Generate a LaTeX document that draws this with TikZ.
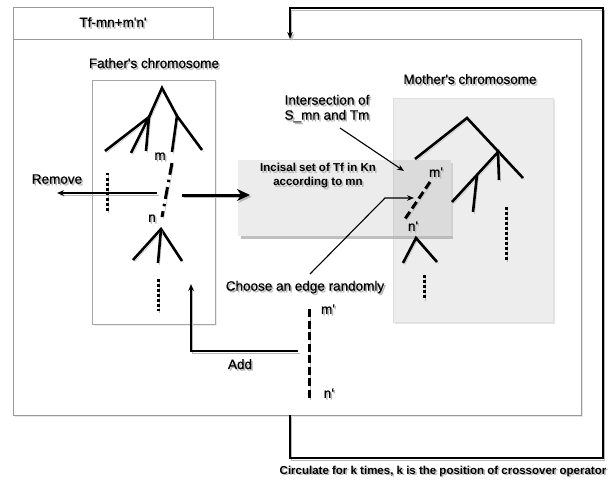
\documentclass[tikz,border=0pt]{standalone}
\usepackage{fontspec}
\setmainfont{Liberation Sans}
\newfontfamily\lblfont{Liberation Sans}[FakeBold=0.6]
\usetikzlibrary{arrows.meta,shadows}
\newcommand\q{\textquotesingle}
\newcommand\sh[1]{\makebox[0pt][l]{\hspace{1.6pt}\raisebox{-1.7pt}{\textcolor{black!28}{#1}}}#1}
\begin{document}
\begin{tikzpicture}[x=1pt,y=-1pt,
  lbl/.style={font=\lblfont\fontsize{13.5}{15}\selectfont, inner sep=0pt},
  blbl/.style={font=\bfseries\fontsize{11.5}{13.5}\selectfont, inner sep=0pt, align=center},
  frame/.style={draw=black!40, line width=0.8pt},
  shd/.style={preaction={draw=black!28, transform canvas={shift={(1.6pt,-1.8pt)}}}},
  tree/.style={line width=2.6pt, shd},
  dotv/.style={line width=3pt, dash pattern=on 2.5pt off 2.5pt, shd},
  dashv/.style={line width=3pt, dash pattern=on 8pt off 3.5pt, shd},
  thin/.style={line width=1.1pt, -{Stealth[length=7pt,width=5.5pt]}},
  thick/.style={line width=3pt, -{Stealth[length=13pt,width=12pt]}}]
\useasboundingbox (0,0) rectangle (615,481);
\fill[white] (0,0) rectangle (615,481);

% frames
\node[frame, fill=white, minimum width=568pt, minimum height=376pt, inner sep=0pt,
      drop shadow={opacity=0.2, shadow xshift=1.5pt, shadow yshift=-1.5pt}] (main) at (297,227) {};
\node[frame, fill=white, minimum width=200pt, minimum height=32pt, inner sep=0pt] (tfbox) at (113,23) {};
\node[lbl] (tftext) at (113,23) {\sh{Tf-mn+m\q n\q}};

% loop arrow
\coordinate (lpS) at (290,415);
\coordinate (lp1) at (290,458);
\coordinate (lp2) at (603,458);
\coordinate (lp3) at (603,8);
\coordinate (lp4) at (290,8);
\coordinate (lpE) at (290,39);
\draw[line width=1.3pt, shd, -{Stealth[length=7pt,width=5.5pt]}] (lpS) -- (lp1) -- (lp2) -- (lp3) -- (lp4) -- (lpE);
\node[blbl] (circ) at (443,472) {\sh{Circulate for k times, k is the position of crossover operator}};

% father box
\node[frame, draw=black!35, fill=white, minimum width=123pt, minimum height=244pt, inner sep=0pt,
      drop shadow={opacity=0.15, shadow xshift=1.5pt, shadow yshift=-1.5pt}] (fbox) at (153.5,202) {};
\node[lbl] (flabel) at (154,64) {\sh{Father\q s chromosome}};

% mother box
\node[draw=black!12, fill=black!7, minimum width=160pt, minimum height=224pt, inner sep=0pt,
      drop shadow={opacity=0.2, shadow xshift=2pt, shadow yshift=-2pt}] (mbox) at (473,210) {};
\node[lbl] (mlabel) at (470,80) {\sh{Mother\q s chromosome}};

% incisal box
\fill[black!35, opacity=0.7] (241,235.5) rectangle (453,238.5);
\fill[black!25, opacity=0.6] (451,163) rectangle (453,238.5);
\node[fill=black, fill opacity=0.075, minimum width=213pt, minimum height=76pt, inner sep=0pt] (ibox) at (344.5,198) {};
\node[blbl] (itext) at (318,176.5) {\sh{Incisal set of Tf in Kn}\\\sh{according to mn}};

% father tree
\draw[tree] (149,117) -- (162,88) -- (177,116);
\draw[tree] (105,151) -- (149,117) -- (131,153);
\draw[tree] (149,117) -- (146,151);
\draw[tree] (202,150) -- (177,116) -- (172,152);
\draw[line width=3pt, dash pattern=on 12pt off 5pt on 2.5pt off 5pt, shd] (172,163) -- (162,217);
\node[lbl] (mf) at (160,157) {\sh{m}};
\node[lbl] (nf) at (152,219) {\sh{n}};
\draw[dotv] (107,173) -- (107,211);
\draw[tree] (133,260) -- (161,229) -- (182,261);
\draw[tree] (161,229) -- (158,263);
\draw[dotv] (158,279) -- (158,311);

% remove / thick arrow
\coordinate (rmS) at (157,193);
\coordinate (rmE) at (57,193);
\draw[thin, shd] (rmS) -- (rmE);
\node[lbl] (rmlabel) at (57,180) {\sh{Remove}};
\coordinate (thS) at (182,195);
\coordinate (thE) at (250,195);
\draw[thick, shd] (thS) -- (thE);

% mother tree
\draw[tree] (415,159) -- (467,118) -- (523,178);
\draw[tree] (452,202) -- (498,152) -- (499,180);
\draw[tree] (477,175) -- (473,212);
\draw[dotv] (506,207) -- (506,260);
\draw[tree] (403,263) -- (416,238) -- (437,262);
\draw[dotv] (424,275) -- (424,299);

% m'n' in intersection
\draw[dashv, dash pattern=on 8pt off 4pt] (430,182) -- (405,219);
\node[lbl] (mp1) at (436,173) {\sh{m\q}};
\node[lbl] (np1) at (413,227) {\sh{n\q}};

% intersection label
\node[lbl, align=center] (intl) at (327,109.5) {\sh{Intersection of}\\\sh{S\_mn and Tm}};
\coordinate (inS) at (340,128);
\coordinate (inE) at (404,171);
\draw[thin] (inS) -- (inE);

% choose edge
\node[lbl] (choose) at (305,288) {\sh{Choose an edge randomly}};
\coordinate (chS) at (310,274);
\coordinate (chM) at (385,198);
\coordinate (chE) at (414,198);
\draw[thin] (chS) -- (chM) -- (chE);

% chosen edge
\draw[dashv] (309,309) -- (309,398);
\node[lbl] (mp2) at (328,310) {\sh{m\q}};
\node[lbl] (np2) at (329,394) {\sh{n‘}};

% add arrow
\coordinate (adS) at (298,351);
\coordinate (adM) at (191,351);
\coordinate (adE) at (191,284);
\draw[thin, shd] (adS) -- (adM) -- (adE);
\node[lbl] (addl) at (240,365) {\sh{Add}};
\end{tikzpicture}
\end{document}
